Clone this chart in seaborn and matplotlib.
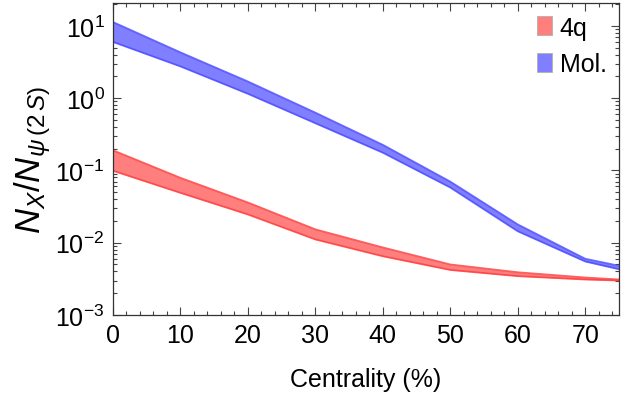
import matplotlib
matplotlib.use("Agg")
import matplotlib.pyplot as plt
import matplotlib.patches as mpatches
from matplotlib.ticker import MultipleLocator, LogLocator, NullFormatter
import seaborn as sns

# centrality bins (%) and band edges
centrality = [0, 10, 20, 30, 40, 50, 60, 70, 75]

tetraquark_hi = [0.19, 0.079, 0.036, 0.0153, 0.0086, 0.0050, 0.0039, 0.0033, 0.0031]
tetraquark_lo = [0.099, 0.049, 0.0246, 0.0111, 0.0065, 0.0042, 0.00345, 0.0031, 0.0030]

molecule_hi = [11.3, 4.3, 1.7, 0.63, 0.226, 0.070, 0.0179, 0.0060, 0.0048]
molecule_lo = [6.0, 2.75, 1.15, 0.45, 0.176, 0.058, 0.0144, 0.0055, 0.0043]

sns.set_style("ticks")
plt.rcParams['font.family'] = ['Liberation Sans', 'DejaVu Sans']
plt.rcParams['mathtext.fontset'] = 'custom'
plt.rcParams['mathtext.rm'] = 'Liberation Sans'
plt.rcParams['mathtext.it'] = 'Liberation Sans:italic'
plt.rcParams['text.color'] = 'black'
plt.rcParams['axes.labelcolor'] = 'black'
plt.rcParams['xtick.labelcolor'] = 'black'
plt.rcParams['ytick.labelcolor'] = 'black'

fig = plt.figure(figsize=(6.43, 4.02), dpi=100)
ax = fig.add_axes([0.1757, 0.2139, 0.787, 0.776])

bands = [
    ("4q", tetraquark_lo, tetraquark_hi, "#ff7f7f", "#ff3a3a"),
    ("Mol.", molecule_lo, molecule_hi, "#7f7fff", "#4848ff"),
]
handles = []
for name, lo, hi, fill, edge in bands:
    ax.fill_between(centrality, lo, hi, color=fill, lw=0)
    sns.lineplot(x=centrality, y=lo, ax=ax, color=edge, lw=1.3, alpha=0.8)
    sns.lineplot(x=centrality, y=hi, ax=ax, color=edge, lw=1.3, alpha=0.8)
    handles.append(mpatches.Patch(facecolor=fill, edgecolor="#b0b0b0", lw=0.6, label=name))

ax.set_yscale("log")
ax.set_xlim(0, 75)
ax.set_ylim(1e-3, 20.7)

ax.xaxis.set_major_locator(MultipleLocator(10))
ax.xaxis.set_minor_locator(MultipleLocator(2))
ax.yaxis.set_major_locator(LogLocator(base=10, numticks=10))
ax.yaxis.set_minor_locator(LogLocator(base=10, subs=range(2, 10), numticks=20))
ax.yaxis.set_minor_formatter(NullFormatter())

ax.tick_params(which="both", direction="in", top=True, right=True, labelsize=18, color="#444444")
ax.tick_params(which="major", length=6, width=0.8, pad=6)
ax.tick_params(which="minor", length=3, width=0.8)
for s in ax.spines.values():
    s.set_linewidth(0.9)
    s.set_color("#333333")

ax.set_xlabel("Centrality (%)", fontsize=18, labelpad=14)
ax.set_ylabel(r"$N_X/N_{\psi\,(\mathrm{2}\,S)}$", fontsize=25, labelpad=2)

ax.legend(handles=handles, loc="upper right", frameon=False, fontsize=18,
          handlelength=0.6, handleheight=0.8, handletextpad=0.3,
          labelspacing=0.5, borderaxespad=0.2, borderpad=0.3)

fig.savefig("out.png", dpi=100)
